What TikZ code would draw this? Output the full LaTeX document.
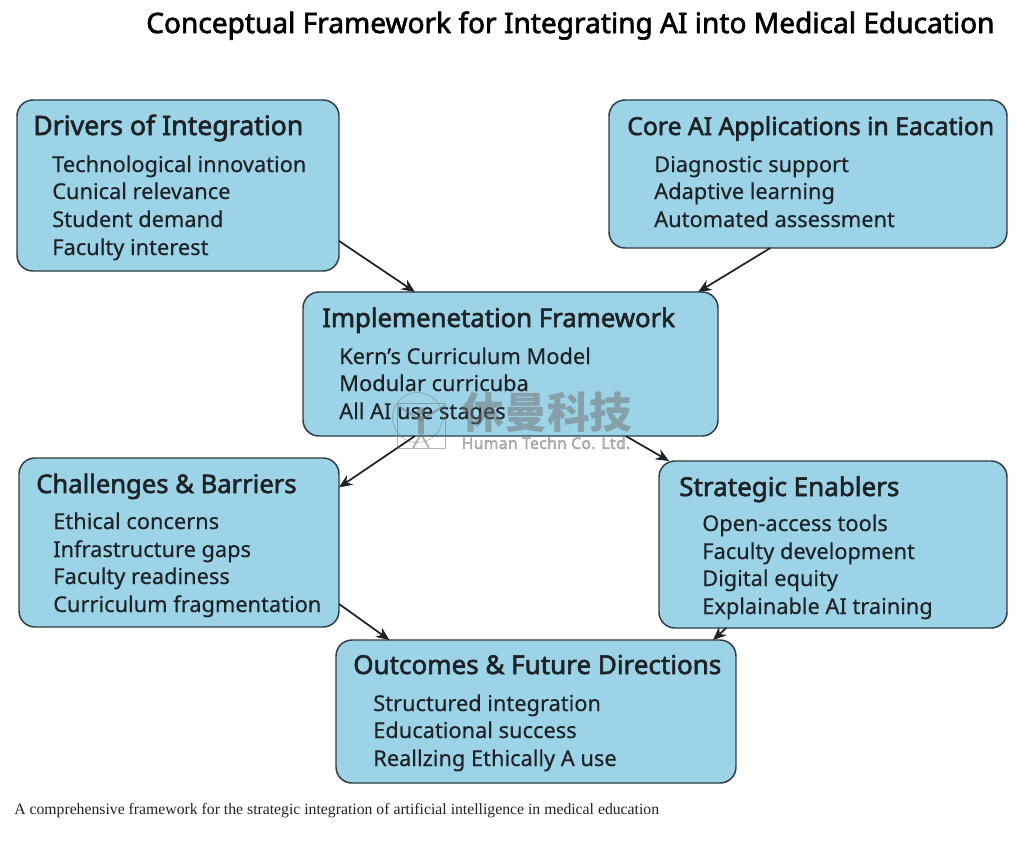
\documentclass[tikz,border=0pt]{standalone}
\usepackage{fontspec}
\setmainfont{Noto Sans}
\newfontfamily\headfont{Noto Sans}[FakeBold=2.2]
\newfontfamily\itemfont{Noto Sans}[FakeBold=0.3]
\newfontfamily\markfont{Noto Sans}[FakeBold=3,LetterSpace=2]
\newfontfamily\capfont{Liberation Serif}
\newfontfamily\cjkfont{Noto Sans CJK SC}
\definecolor{boxblue}{HTML}{9DD3E6}
\definecolor{boxline}{HTML}{2E3B44}
\definecolor{inkdark}{HTML}{1C2226}
\definecolor{markgrey}{HTML}{6E6E6E}
\usetikzlibrary{arrows.meta}
\tikzset{
  panel/.style={draw=boxline,fill=boxblue,line width=1.1pt,rounded corners=12pt,inner sep=0pt,outer sep=0pt},
  heading/.style={anchor=base west,inner sep=0pt,text=inkdark,font=\headfont\fontsize{#1}{#1}\selectfont},
  entry/.style={anchor=base west,inner sep=0pt,text=inkdark,font=\itemfont\fontsize{16.35}{16.35}\selectfont},
  link/.style={-{Stealth[length=10pt,width=8.5pt]},line width=1.3pt,draw=inkdark},
  wmark/.style={opacity=0.5,text=markgrey,inner sep=0pt}
}
\begin{document}
\begin{tikzpicture}[x=0.75pt,y=-0.75pt]
  \useasboundingbox (0,0) rectangle (1024,840);
  \node[heading=21.05,text=black] (title) at (146,33) {Conceptual Framework for Integrating AI into Medical Education};

  % the six boxes
  \node[panel,minimum width=241.5pt,minimum height=128.25pt] (drivers) at (178,185.5) {};
  \node[panel,minimum width=298.5pt,minimum height=111pt] (core) at (808,174) {};
  \node[panel,minimum width=311.25pt,minimum height=108pt] (impl) at (510.5,364) {};
  \node[panel,minimum width=240pt,minimum height=126.75pt] (barriers) at (179,542.5) {};
  \node[panel,minimum width=261pt,minimum height=125.25pt] (enablers) at (833,544.5) {};
  \node[panel,minimum width=300pt,minimum height=107.25pt] (outcomes) at (536,711.5) {};

  \node[heading=20] (driversh) at (33,135) {Drivers of Integration};
  \foreach \y/\lab in {172/Technological innovation,199/Cunical relevance,227/Student demand,255/Faculty interest}
    \node[entry] (drivers\y) at (52,\y) {\lab};

  \node[heading=18.55] (coreh) at (627,135) {Core AI Applications in Eacation};
  \foreach \y/\lab in {172/Diagnostic support,199/Adaptive learning,227/Automated assessment}
    \node[entry] (core\y) at (654,\y) {\lab};

  \node[heading=19.3] (implh) at (322,327) {Implemenetation Framework};
  \foreach \y/\lab in {364/Kern’s Curriculum Model,391/Modular curricuba,419/All AI use stages}
    \node[entry] (impl\y) at (339,\y) {\lab};

  \node[heading=19.2] (barriersh) at (36,493) {Challenges \& Barriers};
  \foreach \y/\lab in {529/Ethical concerns,557/Infrastructure gaps,584/Faculty readiness,612/Curriculum fragmentation}
    \node[entry] (barriers\y) at (53,\y) {\lab};

  \node[heading=19.5] (enablersh) at (679,496) {Strategic Enablers};
  \foreach \y/\lab in {531/Open-access tools,559/Faculty development,586/Digital equity,614/Explainable AI training}
    \node[entry] (enablers\y) at (702,\y) {\lab};

  \node[heading=19.5] (outcomesh) at (353,674) {Outcomes \& Future Directions};
  \foreach \y/\lab in {711/Structured integration,738/Educational success,766/Reallzing Ethically A use}
    \node[entry] (outcomes\y) at (373,\y) {\lab};

  % arrows between boxes
  \draw[link] (drivers.-19.65) -- (impl.143.6);
  \draw[link] (core.243.1) -- (impl.21.3);
  \draw[link] (impl.217.4) -- (barriers.19.8);
  \draw[link] (impl.-32.9) -- (enablers.153.6);
  \draw[link] (barriers.-21.6) -- (outcomes.154.6);
  \draw[link] (enablers.218.2) -- (outcomes.22);

  % watermark
  \begin{scope}[draw=markgrey,opacity=0.5,line width=0.5pt]
    \draw (417.5,417.5) circle[radius=25];
    \draw (397,403) rectangle (445,448);
    \fill[markgrey] (421,411) circle[radius=4];
    \draw[line width=4pt] (421,416) -- (421,434);
    \draw[line width=1.5pt] (421,434) -- (413,448) (421,434) -- (429,448);
    \draw[line width=1.5pt] (421,420) -- (398,406) (421,420) -- (444,406);
  \end{scope}
  \node[wmark,font=\cjkfont\fontsize{32}{32}\selectfont\bfseries] (markcn) at (547,412) {休曼科技};
  \node[wmark,font=\markfont\fontsize{11.8}{12}\selectfont] (markla) at (546,443) {Human Techn Co. Ltd.};

  \node[anchor=base west,inner sep=0pt,text=inkdark,font=\capfont\fontsize{11.8}{12}\selectfont] (caption) at (14,814) {A comprehensive framework for the strategic integration of artificial intelligence in medical education};
\end{tikzpicture}
\end{document}
